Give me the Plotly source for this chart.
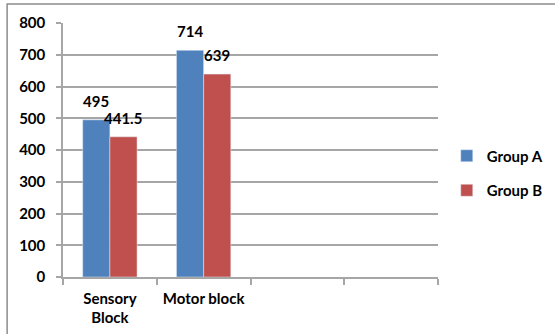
import plotly.graph_objects as go

# Mean block durations per group
categories = ["Sensory<br>Block", "Motor block", " ", "  "]
group_a = [495, 714, None, None]
group_b = [441.5, 639, None, None]
a_labels = ["495", "714"]
b_labels = ["441.5", "639"]
y_ticks = [0, 100, 200, 300, 400, 500, 600, 700, 800]

BLUE = "#4F81BD"
RED = "#C0504D"
FAMILY = "Lato, Open Sans, sans-serif"
FONT = dict(family=FAMILY, size=15, color="#000000", weight="bold")

fig = go.Figure()
fig.add_trace(go.Bar(name="Group A", x=categories, y=group_a, marker_color=BLUE,
                     legendgroup="a"))
fig.add_trace(go.Bar(name="Group B", x=categories, y=group_b, marker_color=RED,
                     legendgroup="b"))

# value labels above each bar
for i, (va, vb) in enumerate(zip(group_a[:2], group_b[:2])):
    fig.add_annotation(x=categories[i], y=va, text=a_labels[i],
                       xshift=-13.5, yshift=8, yanchor="bottom", showarrow=False,
                       font=FONT)
    fig.add_annotation(x=categories[i], y=vb, text=b_labels[i],
                       xshift=13.5, yshift=8, yanchor="bottom", showarrow=False,
                       font=FONT)

# outer frame around the chart
fig.add_shape(type="rect", xref="paper", yref="paper",
              x0=-0.149, x1=1.4, y0=-0.3, y1=1.075,
              line=dict(color="#8C8C8C", width=1.5), fillcolor="rgba(0,0,0,0)")

fig.update_layout(
    width=555, height=334,
    margin=dict(l=63, r=117, t=23, b=57, autoexpand=False),
    paper_bgcolor="white", plot_bgcolor="white",
    barmode="group", bargap=0.42, bargroupgap=0,
    font=FONT,
    showlegend=True,
    legend=dict(xref="container", yref="container", x=0.805, y=0.482,
                xanchor="left", yanchor="middle",
                traceorder="grouped", tracegroupgap=12,
                font=FONT, itemwidth=30),
)
fig.update_xaxes(
    type="category", showgrid=False, showline=True, linecolor="#A6A6A6", linewidth=1.5,
    ticks="outside", ticklen=6, tickcolor="#A6A6A6", tickwidth=1.5,
    tickson="boundaries", ticklabelstandoff=7,
    tickfont=FONT,
)
fig.update_yaxes(
    range=[0, 800], tickvals=y_ticks, showgrid=True, gridcolor="#A6A6A6", gridwidth=1.5,
    showline=True, linecolor="#A6A6A6", linewidth=1.5,
    ticks="outside", ticklen=5, tickcolor="#A6A6A6", tickwidth=1.5,
    ticklabelstandoff=8,
    tickfont=FONT,
    zeroline=False,
)

fig.write_html("out.html")
